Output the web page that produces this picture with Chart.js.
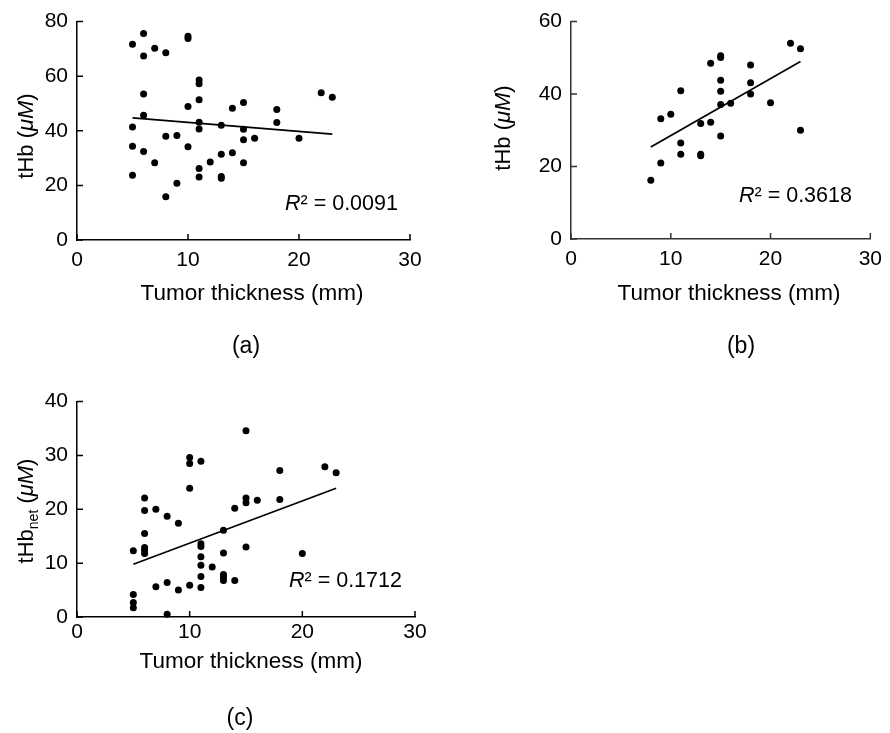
<!DOCTYPE html>
<html lang="en">
<head>
  <meta charset="UTF-8">
  <title>tHb vs tumor thickness</title>
  <script src="https://cdn.jsdelivr.net/npm/chart.js"></script>
  <style>
    body { margin: 0; background: #fff; }
    #wrap { position: relative; width: 890px; height: 733px; }
    canvas { position: absolute; }
  </style>
</head>
<body>
  <div id="wrap">
    <canvas id="chartA" width="445" height="380" style="left:0;top:0"></canvas>
    <canvas id="chartB" width="445" height="380" style="left:445px;top:0"></canvas>
    <canvas id="chartC" width="445" height="353" style="left:0;top:380px"></canvas>
  </div>

  <script>
    // (a) tHb vs thickness
    const thicknessA = [5,5,5,5, 6,6,6,6,6, 7,7, 8,8,8, 9,9, 10,10,10,10, 11,11,11,11,11,11,11, 12, 13,13,13,13, 14,14, 15,15,15,15, 16, 18,18, 20, 22, 23];
    const tHbA = [71.7,41.4,34.3,23.7, 75.6,67.4,53.5,45.7,32.4, 70.2,28.3, 68.6,38,15.8, 38.3,20.8, 74.6,73.8,48.9,34.2, 58.6,57.2,51.4,43.1,40.7,26.2,23.1, 28.6, 42,31.4,23.3,22.6, 48.3,32, 50.4,40.6,36.7,28.3, 37.3, 47.8,43, 37.3, 53.9, 52.3];
    const fitXA = [5, 23];
    const fitYA = [44.7, 38.8];

    // (b)
    const thicknessB = [8, 9,9, 10, 11,11,11, 13,13,13, 14,14, 15,15,15,15,15,15, 16, 18,18,18, 20, 22, 23,23];
    const tHbB = [16.2, 21,33.2, 34.4, 40.9,26.5,23.4, 31.9,23.4,23, 32.2,48.5, 50.6,50.1,43.8,40.8,37.1,28.4, 37.5, 48,43.1,40, 37.6, 54, 52.5,30];
    const fitXB = [8, 23];
    const fitYB = [25.4, 49];

    // (c) tHb_net
    const thicknessC = [5,5,5,5, 6,6,6,6,6,6, 7,7, 8,8,8, 9,9, 10,10,10,10, 11,11,11,11,11,11,11, 12, 13,13,13,13,13, 14,14, 15,15,15,15, 16, 18,18, 20, 22, 23];
    const tHbNetC = [12.3,4.2,2.7,1.7, 22.1,19.8,15.5,12.9,12.4,11.8, 20,5.6, 18.7,6.4,0.5, 17.4,5, 29.6,28.5,23.9,5.9, 28.9,13.6,13.1,11.2,9.6,7.5,5.5, 9.3, 16.1,11.9,7.9,7.4,6.8, 20.2,6.8, 34.6,22.1,21.2,13, 21.7, 27.2,21.8, 11.8, 27.9, 26.8];
    const fitXC = [5, 23];
    const fitYC = [9.8, 23.9];

    const xTicks = [0, 10, 20, 30];
    const r2Labels = ['0.0091', '0.3618', '0.1712'];

    const FONT = '"Liberation Sans", Arial, Helvetica, sans-serif';

    function drawRich(ctx, item) {
      ctx.save();
      ctx.translate(item.x, item.y);
      if (item.rot) ctx.rotate(item.rot);
      ctx.textBaseline = 'alphabetic';
      ctx.textAlign = 'left';
      ctx.fillStyle = '#000';
      const parts = item.segs.map(s => {
        const size = s.sub ? 14 : (item.size || 21);
        const font = (s.italic ? 'italic ' : '') + size + 'px ' + FONT;
        ctx.font = font;
        return { text: s.t, font: font, w: ctx.measureText(s.t).width, dy: s.sub ? 5 : 0 };
      });
      const total = parts.reduce((a, p) => a + p.w, 0);
      let cx = item.align === 'center' ? -total / 2 : 0;
      parts.forEach(p => {
        ctx.font = p.font;
        ctx.fillText(p.text, cx, p.dy);
        cx += p.w;
      });
      ctx.restore();
    }

    // inward tick marks + titles / labels
    const decor = {
      id: 'decor',
      afterDraw(chart, args, opts) {
        const ctx = chart.ctx;
        const xs = chart.scales.x, ys = chart.scales.y;
        const area = chart.chartArea;
        ctx.save();
        ctx.strokeStyle = opts.axisColor;
        ctx.lineWidth = 1.5;
        ctx.beginPath();
        xs.ticks.forEach(t => {
          const px = xs.getPixelForValue(t.value);
          ctx.moveTo(px, area.bottom);
          ctx.lineTo(px, area.bottom - 6);
        });
        ys.ticks.forEach(t => {
          const py = ys.getPixelForValue(t.value);
          ctx.moveTo(area.left, py);
          ctx.lineTo(area.left + 6, py);
        });
        ctx.stroke();
        ctx.restore();
        opts.texts.forEach(item => drawRich(ctx, item));
      }
    };

    function makeChart(id, o) {
      const tickFont = { family: FONT, size: 21 };
      return new Chart(document.getElementById(id), {
        type: 'scatter',
        data: {
          datasets: [{
            data: o.xs.map((x, i) => ({ x: x, y: o.ys[i] })),
            pointRadius: 3.5,
            pointBackgroundColor: '#000',
            pointBorderWidth: 0,
            clip: false
          }, {
            data: o.fitX.map((x, i) => ({ x: x, y: o.fitY[i] })),
            showLine: true,
            borderColor: '#000',
            borderWidth: 1.7,
            pointRadius: 0,
            clip: false
          }]
        },
        options: {
          responsive: false,
          animation: false,
          layout: { padding: o.pad },
          plugins: {
            legend: { display: false },
            tooltip: { enabled: false },
            decor: { axisColor: o.axisColor, texts: o.texts }
          },
          scales: {
            x: {
              type: 'linear',
              min: 0,
              max: 30,
              afterBuildTicks: s => { s.ticks = xTicks.map(v => ({ value: v })); },
              ticks: { padding: o.xPad, color: '#000', font: tickFont, maxRotation: 0 },
              grid: { display: false, drawTicks: false },
              border: { color: o.axisColor, width: 1.5 },
              afterFit: s => { s.height = o.xH; }
            },
            y: {
              min: 0,
              max: o.yMax,
              ticks: { stepSize: o.yStep, padding: 9, color: '#000', font: tickFont },
              grid: { display: false, drawTicks: false },
              border: { color: o.axisColor, width: 1.5 },
              afterFit: s => { s.width = o.yW; }
            }
          }
        },
        plugins: [decor]
      });
    }

    const xTitle = [{ t: 'Tumor thickness (mm)' }];
    const yTitle = [{ t: 'tHb (' }, { t: 'μM', italic: true }, { t: ')' }];
    const yTitleNet = [{ t: 'tHb' }, { t: 'net', sub: true }, { t: ' (' }, { t: 'μM', italic: true }, { t: ')' }];
    const r2 = v => [{ t: 'R', italic: true }, { t: '² = ' + v }];

    makeChart('chartA', {
      xs: thicknessA, ys: tHbA, fitX: fitXA, fitY: fitYA,
      yMax: 80, yStep: 20, yW: 77, xH: 140, xPad: 8,
      pad: { top: 19, right: 35, left: 0, bottom: 0 },
      axisColor: '#000',
      texts: [
        { segs: yTitle, x: 33, y: 136, rot: -Math.PI / 2, align: 'center', size: 22 },
        { segs: xTitle, x: 252, y: 300, align: 'center', size: 22.5 },
        { segs: [{ t: '(a)' }], x: 246, y: 353, align: 'center', size: 23 },
        { segs: r2(r2Labels[0]), x: 285, y: 210, size: 21.5 }
      ]
    });

    makeChart('chartB', {
      xs: thicknessB, ys: tHbB, fitX: fitXB, fitY: fitYB,
      yMax: 60, yStep: 20, yW: 126, xH: 141, xPad: 8,
      pad: { top: 18, right: 11, left: 0, bottom: 0 },
      axisColor: '#333',
      texts: [
        { segs: yTitle, x: 65, y: 128, rot: -Math.PI / 2, align: 'center', size: 22 },
        { segs: xTitle, x: 284, y: 300, align: 'center', size: 22.5 },
        { segs: [{ t: '(b)' }], x: 296, y: 353, align: 'center', size: 23 },
        { segs: r2(r2Labels[1]), x: 294, y: 202, size: 21.5 }
      ]
    });

    makeChart('chartC', {
      xs: thicknessC, ys: tHbNetC, fitX: fitXC, fitY: fitYC,
      yMax: 40, yStep: 10, yW: 77, xH: 116, xPad: 3,
      pad: { top: 14, right: 30, left: 0, bottom: 0 },
      axisColor: '#000',
      texts: [
        { segs: yTitleNet, x: 33, y: 131, rot: -Math.PI / 2, align: 'center', size: 22 },
        { segs: xTitle, x: 251, y: 288, align: 'center', size: 22.5 },
        { segs: [{ t: '(c)' }], x: 240, y: 345, align: 'center', size: 23 },
        { segs: r2(r2Labels[2]), x: 289, y: 207, size: 21.5 }
      ]
    });
  </script>
</body>
</html>
